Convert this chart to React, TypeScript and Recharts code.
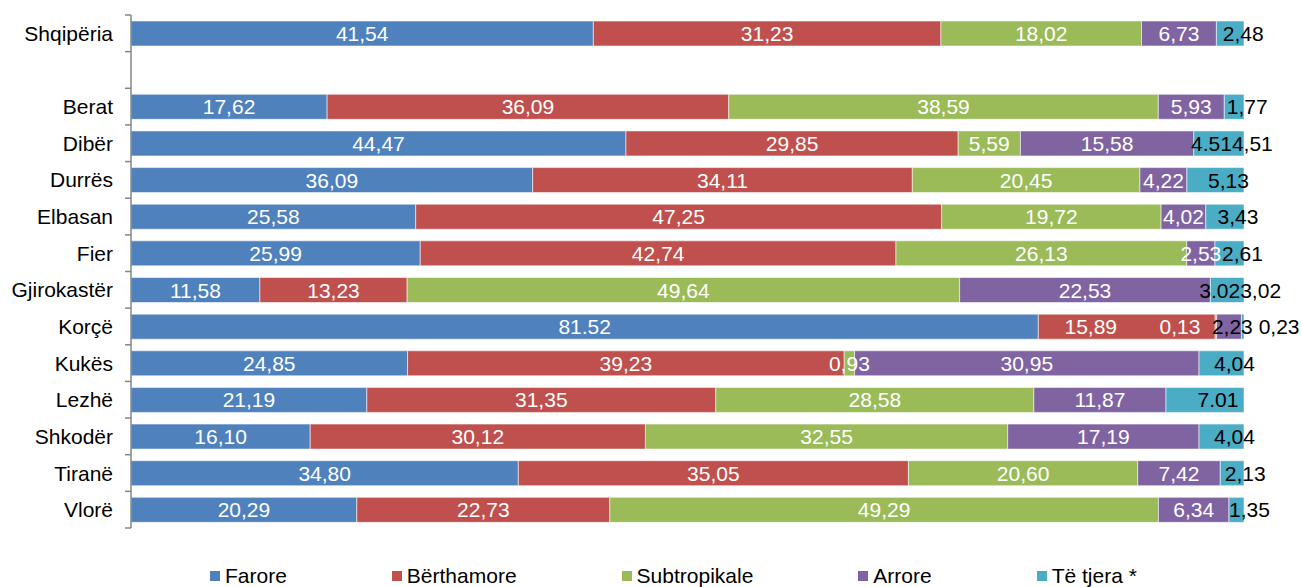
import React from "react";
import { BarChart, Bar, XAxis, YAxis, Legend, LabelList } from "recharts";

const regions = ["Shqipëria", "", "Berat", "Dibër", "Durrës", "Elbasan", "Fier", "Gjirokastër", "Korçë", "Kukës", "Lezhë", "Shkodër", "Tiranë", "Vlorë"];

// labels as printed on the chart (mixed decimal separators kept as in source)
const farore = ["41,54", "", "17,62", "44,47", "36,09", "25,58", "25,99", "11,58", "81.52", "24,85", "21,19", "16,10", "34,80", "20,29"];
const berthamore = ["31,23", "", "36,09", "29,85", "34,11", "47,25", "42,74", "13,23", "15,89", "39,23", "31,35", "30,12", "35,05", "22,73"];
const subtropikale = ["18,02", "", "38,59", "5,59", "20,45", "19,72", "26,13", "49,64", "0,13", "0,93", "28,58", "32,55", "20,60", "49,29"];
const arrore = ["6,73", "", "5,93", "15,58", "4,22", "4,02", "2,53", "22,53", "2,23", "30,95", "11,87", "17,19", "7,42", "6,34"];
const teTjera = ["2,48", "", "1,77", "4,51", "5,13", "3,43", "2,61", "3,02", "0,23", "4,04", "7,01", "4,04", "2,13", "1,35"];

// the extra text Excel printed for the last series on a few rows
const teTjeraText = ["2,48", "", "1,77", "4.514,51", "5,13", "3,43", "2,61", "3.023,02", "2,23 0,23", "4,04", "7.01", "4,04", "2,13", "1,35"];

const series = [
  { key: "farore", name: "Farore", color: "#4F81BD", values: farore },
  { key: "berthamore", name: "Bërthamore", color: "#C0504D", values: berthamore },
  { key: "subtropikale", name: "Subtropikale", color: "#9BBB59", values: subtropikale },
  { key: "arrore", name: "Arrore", color: "#8064A2", values: arrore },
  { key: "teTjera", name: "Të tjera *", color: "#4BACC6", values: teTjera },
];

const num = (s: string) => (s === "" ? 0 : parseFloat(s.replace(",", ".")));

const data = regions.map((name, i) => {
  const row: any = { name };
  series.forEach((s) => {
    row[s.key] = num(s.values[i]);
    row[s.key + "Label"] = s.values[i];
  });
  row.arroreLabel = name === "Korçë" ? "" : arrore[i];
  row.teTjeraLabel = teTjeraText[i];
  return row;
});

const W = 1302;
const H = 587;
const FONT = "'Liberation Sans', Arial, sans-serif";
const TOP = 15;
const LEGEND_H = 59;
const AXIS_X = 131;
const BAND = (H - TOP - LEGEND_H) / regions.length;

const makeLabel = (color: string, dx: number, key: string) => (props: any) => {
  const { x, y, width, height, value } = props;
  if (!value) return null;
  const cy = Number(y) + Number(height) / 2;
  // work out the row from the band the label sits in
  const row = Math.floor((cy - TOP) / BAND);
  // Korçë labels were pushed left in the source
  const shift = regions[row] === "Korçë" && (key === "berthamore" || key === "subtropikale") ? -36 : 0;
  return (
    <text
      x={Number(x) + Number(width) / 2 + dx + shift}
      y={cy}
      fill={color}
      fontSize={21}
      fontFamily={FONT}
      textAnchor="middle"
      dominantBaseline="central"
    >
      {value}
    </text>
  );
};

const RegionTick = (props: any) => {
  const { y, payload, index } = props;
  return (
    <g>
      <line x1={AXIS_X - 6} x2={AXIS_X} y1={y - BAND / 2} y2={y - BAND / 2} stroke="#868686" strokeWidth={1.5} />
      {index === regions.length - 1 && (
        <line x1={AXIS_X - 6} x2={AXIS_X} y1={y + BAND / 2} y2={y + BAND / 2} stroke="#868686" strokeWidth={1.5} />
      )}
      <text x={AXIS_X - 18} y={y} textAnchor="end" dominantBaseline="central" fontSize={21} fontFamily={FONT} fill="#000">
        {payload.value}
      </text>
    </g>
  );
};

const renderLegend = () => (
  <div
    style={{
      height: LEGEND_H,
      boxSizing: "border-box",
      paddingTop: 36,
      paddingLeft: 210,
      display: "flex",
      alignItems: "center",
      fontFamily: FONT,
      fontSize: 21,
      lineHeight: "24px",
      color: "#000",
    }}
  >
    {series.map((s) => (
      <div key={s.key} style={{ display: "flex", alignItems: "center", marginRight: 105 }}>
        <span style={{ width: 10, height: 10, background: s.color, display: "inline-block", marginRight: 5 }} />
        <span>{s.name}</span>
      </div>
    ))}
  </div>
);

export default function App() {
  return (
    <div style={{ position: "absolute", left: 0, top: 0, width: W, height: H, background: "#fff" }}>
      <BarChart
        width={W}
        height={H}
        data={data}
        layout="vertical"
        barSize={25}
        margin={{ top: TOP, right: 58, left: 0, bottom: 0 }}
      >
        <XAxis type="number" domain={[0, 100]} hide />
        <YAxis
          type="category"
          dataKey="name"
          width={AXIS_X}
          axisLine={{ stroke: "#868686", strokeWidth: 1.5 }}
          tickLine={false}
          tick={<RegionTick />}
          interval={0}
        />
        <Legend
          verticalAlign="bottom"
          height={LEGEND_H}
          content={renderLegend}
          wrapperStyle={{ left: 0, width: W }}
        />
        {series.map((s) => (
          <Bar
            key={s.key}
            dataKey={s.key}
            name={s.name}
            stackId="a"
            fill={s.color}
            stroke="#ffffff"
            strokeOpacity={0.55}
            strokeWidth={1}
            isAnimationActive={false}
          >
            <LabelList
              dataKey={s.key + "Label"}
              content={makeLabel(s.key === "teTjera" ? "#000" : "#fff", s.key === "teTjera" ? 13 : 0, s.key)}
            />
          </Bar>
        ))}
      </BarChart>
    </div>
  );
}
